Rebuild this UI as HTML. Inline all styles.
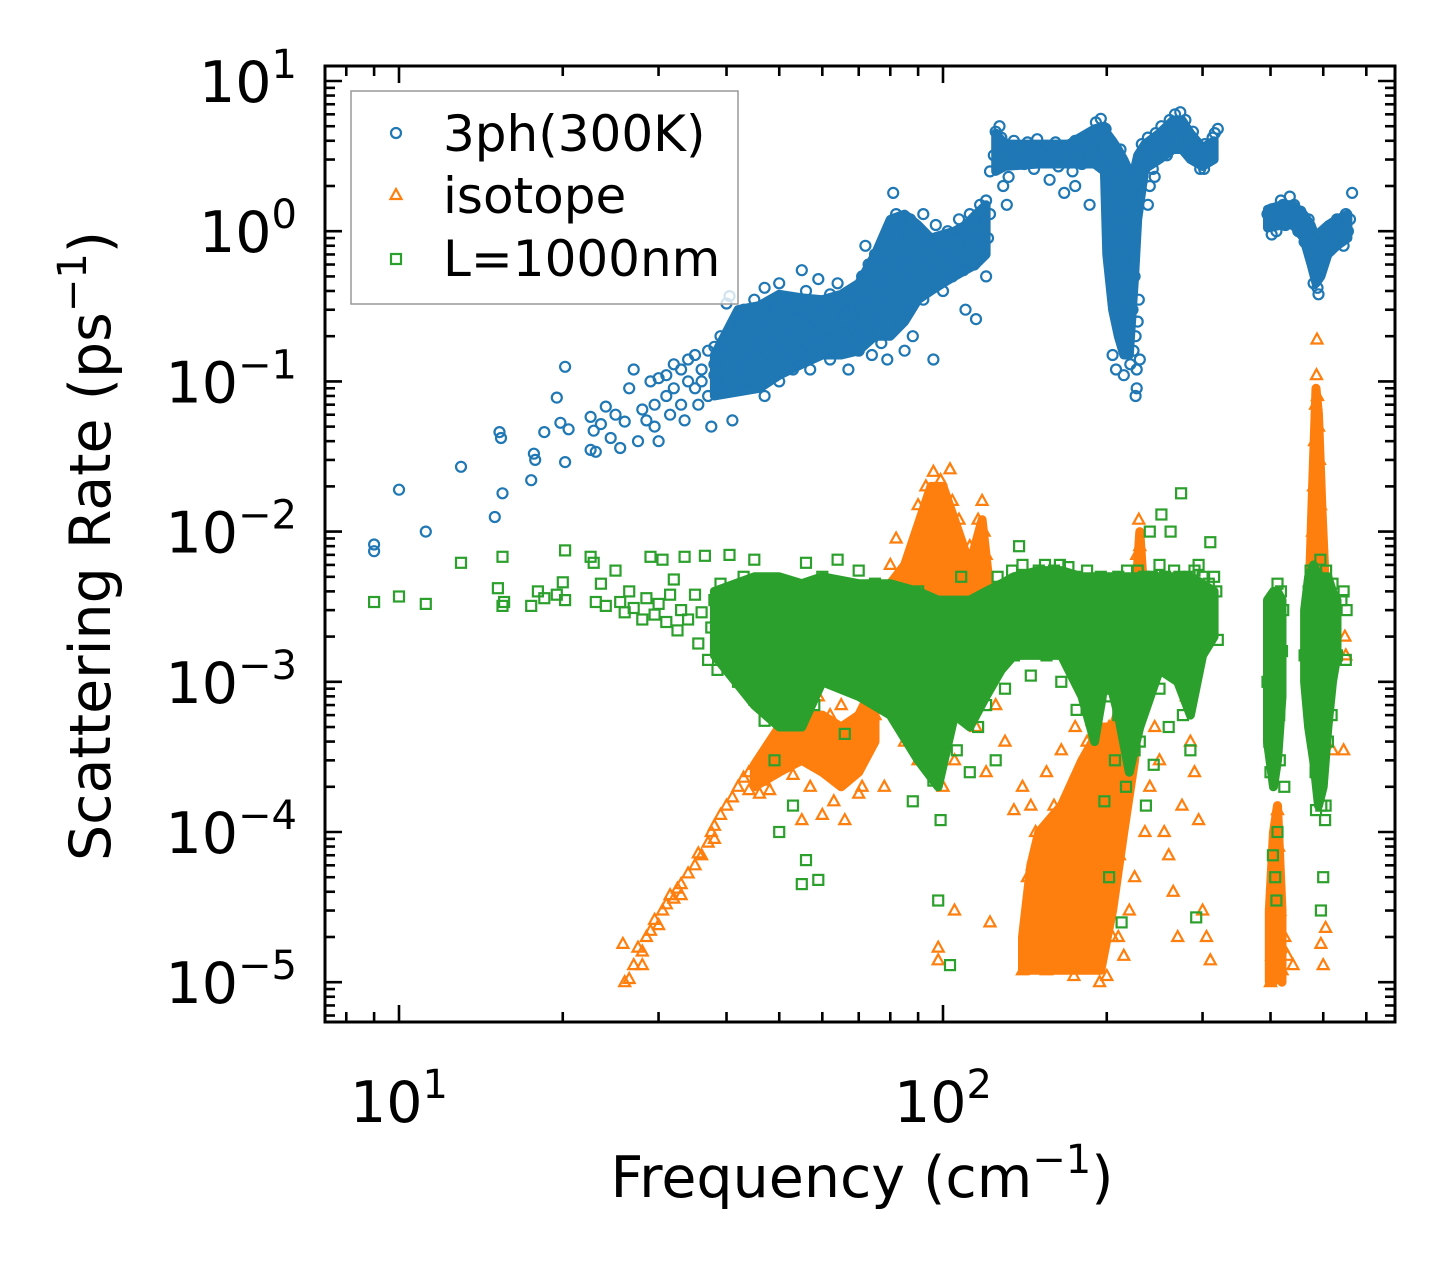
<!DOCTYPE html>
<html><head><meta charset="utf-8"><style>
html,body{margin:0;padding:0;background:#fff;}
svg{display:block;font-family:"DejaVu Sans","Liberation Sans",sans-serif;}
</style></head><body>
<svg id="chart" width="1455" height="1272" viewBox="0 0 1455 1272" xmlns="http://www.w3.org/2000/svg">
<rect width="1455" height="1272" fill="#fff"/>
<g id="marks"></g>
<g id="axes"></g>
<g>
<rect x="351" y="91" width="387" height="213" fill="#fff" fill-opacity="0.8" stroke="#999" stroke-width="1.5"/>
<circle cx="396" cy="133" r="5" fill="none" stroke="#1f77b4" stroke-width="2.2"/>
<polygon points="396,189 390.5,199 401.5,199" fill="none" stroke="#ff7f0e" stroke-width="2.2"/>
<rect x="391" y="254" width="10" height="10" fill="none" stroke="#2ca02c" stroke-width="2.2"/>
<text x="443" y="151" font-size="50">3ph(300K)</text>
<text x="443" y="213" font-size="50">isotope</text>
<text x="443" y="276" font-size="50">L=1000nm</text>
</g>
<text x="862" y="1197" font-size="57" text-anchor="middle">Frequency (cm<tspan font-size="40" dy="-24">−1</tspan><tspan dy="24">)</tspan></text>
<text transform="translate(110,546) rotate(-90)" font-size="57" text-anchor="middle">Scattering Rate (ps<tspan font-size="40" dy="-24">−1</tspan><tspan dy="24">)</tspan></text>
</svg>
<script>
const xTickExps = [1, 2];
const yTickExps = [1, 0, -1, -2, -3, -4, -5];
// dense-core envelopes: [frequency, low rate, high rate]
const threePhCoreA = [[38,0.08,0.15],[42,0.085,0.3],[46,0.09,0.32],[50,0.11,0.38],[55,0.13,0.36],[60,0.15,0.35],[65,0.15,0.38],[70,0.16,0.45],[75,0.2,0.7],[80,0.2,1.2],[85,0.25,1.3],[90,0.35,1.1],[95,0.4,0.9],[100,0.45,0.95],[105,0.5,1.0],[110,0.55,1.1],[115,0.6,1.3],[120,0.7,1.5]];
const threePhCoreB = [[125,2.5,4.5],[130,2.7,3.8],[150,2.8,3.8],[170,2.8,3.8],[190,2.8,4.8],[198,2.5,5],[200,0.7,4.5],[205,0.3,4],[210,0.2,3.5],[215,0.15,3],[220,0.15,2.5],[225,0.5,2.6],[228,1.2,3.2],[235,2.6,3.8],[250,3,4.5],[265,3.5,5.5],[275,3.5,5.5],[285,3,4.5],[300,2.7,3.6],[315,3,4]];
const threePhCoreC = [[395,1.05,1.4],[420,1.1,1.5],[440,1.1,1.5],[460,0.9,1.3],[475,0.6,1.1],[485,0.45,0.9],[495,0.5,1.0],[510,0.7,1.1],[530,0.8,1.2],[555,0.9,1.3]];
const isotopeCoreA = [[45,2e-4,2.8e-4],[50,2.5e-4,5e-4],[55,3e-4,6e-4],[60,2.5e-4,6e-4],[65,2e-4,5e-4],[70,2.5e-4,6e-4],[75,4e-4,1e-3]];
const isotopeCoreB = [[78,1e-3,4e-3],[85,1e-3,6e-3],[95,2e-3,2e-2],[100,2e-3,2e-2],[105,2e-3,1.2e-2],[112,2e-3,6e-3],[118,2e-3,1.2e-2],[122,2e-3,4e-3]];
const isotopeCoreC = [[140,1.2e-5,2e-5],[145,1.2e-5,6e-5],[150,1.2e-5,1e-4],[165,1.2e-5,1.5e-4],[180,1.2e-5,3e-4],[195,1.2e-5,5e-4],[205,3e-5,5e-4],[215,1e-4,8e-4],[225,3e-4,3e-3],[230,1e-3,1e-2],[235,1e-3,3e-3]];
const isotopeCoreD = [[398,1e-5,3e-5],[405,1e-5,1e-4],[412,1.2e-5,1.5e-4],[420,1e-5,3e-5]];
const isotopeCoreE = [[470,1e-3,3e-3],[478,2e-3,2e-2],[485,3e-3,9e-2],[490,3e-3,6e-2],[497,2e-3,1.5e-2],[505,1e-3,4e-3]];
const boundaryCoreA = [[38,1.5e-3,4e-3],[45,7e-4,5e-3],[50,5e-4,5e-3],[55,5e-4,4.5e-3],[60,1e-3,5e-3],[70,8e-4,4.5e-3],[80,6e-4,4.5e-3],[90,3e-4,4e-3],[98,2e-4,3.5e-3],[105,6e-4,3.5e-3],[112,5e-4,3.5e-3],[120,8e-4,4e-3],[128,1.2e-3,4.5e-3],[135,1.5e-3,5e-3],[150,1.5e-3,5.5e-3],[165,1.5e-3,5.5e-3],[180,8e-4,5e-3],[190,4e-4,5e-3],[200,1.2e-3,5e-3],[210,6e-4,5e-3],[220,2.5e-4,5e-3],[230,5e-4,5e-3],[250,1.2e-3,5e-3],[270,1e-3,5e-3],[285,6e-4,5e-3],[300,1.5e-3,4.5e-3],[315,2e-3,4e-3]];
const boundaryCoreB = [[395,4e-4,3.5e-3],[405,2e-4,4e-3],[412,3e-4,4e-3],[420,8e-4,3.5e-3]];
const boundaryCoreC = [[462,1e-3,3e-3],[470,5e-4,5e-3],[480,3e-4,6e-3],[490,1.5e-4,5e-3],[500,2e-4,5e-3],[510,5e-4,5e-3],[520,1e-3,4e-3],[530,1.5e-3,3.5e-3]];
const threePhData = [
[9,8.2e-3],[9,7.4e-3],[10,1.9e-2],[11.2,1e-2],[13,2.7e-2],[15,1.25e-2],[15.3,4.6e-2],[15.4,4.2e-2],[15.5,1.8e-2],[17.5,2.2e-2],[17.7,3.3e-2],[17.8,3.0e-2],[18.5,4.6e-2],[19.5,7.8e-2],[19.8,5.3e-2],[20.2,0.125],[20.2,2.9e-2],[20.5,4.8e-2],[22.5,5.8e-2],[22.5,3.5e-2],[22.8,4.7e-2],[23,3.4e-2],[23.5,5.2e-2],[24,6.8e-2],[24.5,4.2e-2],[25,0.06],[25.5,3.6e-2],[26,5.4e-2],[26.5,0.09],[27,0.12],[27.5,0.04],[28,0.065],[28.5,0.055],[29,0.1],[29.5,0.07],[29.5,0.05],[30,0.105],[30,0.04],[31,0.11],[31,0.08],[31.5,0.06],[32,0.13],[32,0.09],[33,0.12],[33,0.07],[33.5,0.055],[34,0.1],[34,0.14],[35,0.09],[35,0.15],[35.5,0.07],[36,0.12],[36,0.1],[37,0.08],[37,0.16],[37.5,0.05],[38,0.11],[38,0.17],[38.5,0.09],
[38,0.13],[39,0.2],[40,0.33],[40.5,0.37],[40,0.1],[41,0.16],[41,0.055],[42,0.25],[42,0.12],[43,0.3],[43,0.09],[44,0.2],[44,0.14],[45,0.35],[45,0.11],[46,0.26],[46,0.17],[47,0.42],[47,0.08],[48,0.22],[48,0.13],[49,0.3],[49,0.18],[50,0.45],[50,0.1],[51,0.25],[51,0.15],[52,0.35],[52,0.2],[53,0.12],[54,0.3],[54,0.22],[55,0.55],[55,0.16],[56,0.28],[56,0.4],[57,0.2],[57,0.12],[58,0.33],[58,0.25],[59,0.48],[60,0.18],[60,0.3],[61,0.22],[62,0.38],[62,0.14],[63,0.27],[64,0.2],[64,0.45],[65,0.32],[66,0.17],[66,0.25],[67,0.12],[68,0.3],[68,0.22],[69,0.38],[70,0.2],[70,0.16],[71,0.5],[71,0.28],[72,0.8],[72,0.35],[73,0.6],[73,0.22],[74,0.42],[74,0.15],[75,0.7],[75,0.3],[76,0.25],[77,0.45],[77,0.18],[78,0.33],[78,0.6],[79,0.14],[80,0.5],[80,1.0],[81,1.8],[81,0.35],[82,1.3],[82,0.6],[83,0.9],[83,0.25],[84,0.45],[84,1.1],[85,0.7],[85,0.16],[86,0.3],[86,0.55],[87,1.2],[87,0.85],[88,0.4],[88,0.2],[89,0.65],[90,1.0],[90,0.5],[91,0.75],[92,0.35],[92,1.3],[93,0.6],[94,0.9],[95,0.45],[96,0.75],[97,1.1],[98,0.55],[99,0.85],[100,0.65],[100,0.4],[102,1.0],[103,0.7],[104,0.5],[105,0.9],[106,0.6],[107,1.2],[108,0.75],[109,0.55],[110,0.95],[111,0.7],[112,1.3],[113,0.85],[114,0.6],[115,1.1],[116,0.9],[117,1.5],[118,0.75],[119,1.2],[120,1.6],[120,0.5],[121,0.9],[122,1.3],[115,0.26],[110,0.3],[96,0.14],
[122,2.5],[124,3.2],[125,4.6],[126,3.5],[127,5.0],[128,4.2],[129,2.0],[130,3.8],[131,1.5],[132,2.3],[133,3.3],[135,4.0],[137,3.0],[139,3.6],[141,2.8],[143,3.9],[145,3.2],[147,2.6],[149,4.1],[151,3.4],[153,2.9],[155,3.7],[157,2.2],[159,3.1],[161,3.9],[163,2.7],[165,3.5],[167,1.8],[169,3.0],[171,3.6],[173,2.5],[175,4.0],[177,3.2],[180,2.8],[183,3.8],[186,3.3],[189,4.5],[191,5.3],[193,4.0],[195,5.6],[197,3.5],[199,4.8],[186,1.5],[175,2.0],
[200,3.0],[201,2.0],[202,1.2],[203,0.8],[204,0.5],[205,2.5],[206,1.5],[207,0.35],[208,1.0],[209,0.65],[210,2.2],[211,0.25],[212,1.4],[213,0.45],[214,0.9],[215,0.3],[216,0.18],[217,0.6],[218,1.1],[219,0.4],[220,0.22],[221,0.13],[222,0.75],[223,0.3],[224,0.16],[225,0.5],[226,0.2],[227,0.12],[226,0.08],[227,0.09],[228,0.25],[229,0.35],[230,0.14],[215,0.11],[208,0.12],[205,0.15],[212,3.5],[218,2.5],[224,1.8],[228,2.8],[214,0.6],
[232,3.8],[235,3.0],[238,4.2],[240,3.4],[243,2.6],[246,4.5],[249,3.7],[252,5.0],[255,4.1],[258,3.2],[261,5.5],[264,4.4],[267,6.0],[270,5.3],[273,6.2],[276,4.7],[279,5.5],[282,4.0],[285,3.5],[288,4.6],[291,3.8],[294,3.0],[297,2.6],[300,3.3],[303,3.8],[306,3.2],[310,3.6],[313,4.2],[316,4.5],[320,4.8],[302,2.6],[240,2.0],[238,1.5],[245,2.3],
[395,1.3],[398,1.1],[402,1.4],[406,1.2],[410,1.0],[414,1.3],[418,1.6],[422,1.5],[426,1.1],[430,1.4],[434,1.7],[438,1.3],[442,1.5],[446,1.2],[450,1.0],[454,1.35],[458,1.1],[462,0.85],[466,0.95],[470,1.2],[474,0.7],[478,0.9],[482,0.6],[486,0.5],[488,0.42],[490,0.38],[492,0.55],[495,0.8],[500,0.65],[505,0.9],[510,1.0],[515,0.75],[520,1.1],[525,0.85],[530,1.2],[540,0.95],[550,1.3],[555,1.0],[565,1.8],[560,1.2],[545,0.8],[480,0.45],[402,0.95]
];
const isotopeData = [
[26,1.0e-5],[26.5,1.05e-5],[27,1.3e-5],[27.5,1.7e-5],[28,1.6e-5],[28.5,2.0e-5],[29,2.2e-5],[29.5,2.6e-5],[30,2.4e-5],[30.5,3.0e-5],[31,3.3e-5],[31.5,3.8e-5],[32,3.6e-5],[32.5,4.2e-5],[33,4.5e-5],[34,5.3e-5],[35,6.0e-5],[35.5,7.2e-5],[36,7.0e-5],[37,8.5e-5],[37.5,1.0e-4],[38,1.1e-4],[39,1.3e-4],[40,1.5e-4],[41,1.7e-4],[42,2.0e-4],[43,2.3e-4],[44,2.5e-4],[45,2.8e-4],[46,2.6e-4],[47,2.2e-4],[48,1.9e-4],[46,1.8e-4],[44,1.9e-4],[38,9e-5],[33,3.8e-5],[28,1.3e-5],[25.8,1.8e-5],
[49,3.5e-4],[50,4.5e-4],[51,3e-4],[52,5.5e-4],[53,2.4e-4],[54,4e-4],[55,6.5e-4],[56,3.2e-4],[57,2.0e-4],[58,5e-4],[59,8e-4],[60,4e-4],[61,2.6e-4],[62,6e-4],[63,1.6e-4],[64,3.5e-4],[65,7e-4],[66,2.4e-4],[67,4.5e-4],[68,1.1e-3],[69,3e-4],[70,5.5e-4],[71,2e-4],[72,8e-4],[73,4e-4],[74,1.3e-3],[75,6e-4],[76,2.8e-3],[77,3e-3],[78,1.8e-3],[79,4e-3],[80,6e-3],[81,3e-3],[82,9e-3],[83,5e-3],[84,2e-3],[85,1.2e-3],[86,4e-3],[87,7e-3],[88,3e-3],[89,1.5e-3],[90,1.5e-2],[91,8e-3],[92,4e-3],[93,2e-2],[94,1.2e-2],[95,6e-3],[96,2.5e-2],[97,1.7e-2],[98,9e-3],[99,2.2e-2],[100,1.4e-2],[101,7e-3],[102,1.1e-2],[103,2.6e-2],[104,1.6e-2],[105,5e-3],[106,9e-3],[107,1.2e-2],[108,6e-3],[110,4e-3],[112,8e-3],[114,6e-3],[116,1.2e-2],[118,1.6e-2],[119,1.0e-2],[120,7e-3],[121,4e-3],[122,2e-3],[115,3e-3],[58,1.5e-3],[62,1.1e-3],[55,1.2e-4],[66,1.2e-4],[60,1.3e-4],[70,1.8e-4],[78,2e-4],[85,4e-4],[90,3e-4],[95,4.5e-4],[100,2e-4],[105,3e-4],[110,6e-4],[115,5e-4],[120,2.5e-4],[125,7e-4],[130,4e-4],[98,1.7e-5],[98,1.4e-5],[105,3e-5],[122,2.5e-5],[135,1.4e-4],[140,2e-4],
[140,1.2e-5],[142,2e-5],[144,3.5e-5],[146,6e-5],[148,1e-4],[150,1.6e-5],[152,4e-5],[154,2.5e-5],[156,8e-5],[158,1.3e-5],[160,5e-5],[162,3e-5],[164,1.2e-4],[166,2e-5],[168,7e-5],[170,1.5e-4],[172,4e-5],[174,1.1e-5],[176,2.5e-4],[178,9e-5],[180,3e-5],[182,6e-5],[184,4e-4],[186,1.8e-5],[188,1.2e-4],[190,5e-5],[192,2.2e-5],[194,1.0e-5],[196,8e-5],[198,3.5e-5],[200,2e-4],[202,5e-4],[205,3e-4],[208,1e-4],[211,7e-5],[214,2e-4],[217,1e-3],[220,5e-4],[223,2e-3],[225,4e-3],[227,7e-3],[229,1.2e-2],[230,8e-3],[232,3e-3],[228,1.5e-3],[145,1.5e-4],[155,2.5e-4],[165,3.5e-4],[175,5e-4],[185,7e-4],[150,7e-5],[160,1.5e-4],[170,1.0e-4],[180,1.8e-4],[190,2.5e-4],[195,1.5e-4],[143,5e-5],[155,1.2e-5],[167,1.5e-5],[182,1.3e-5],[192,1.5e-5],[200,1.1e-5],[205,2e-5],[210,2e-5],[215,1.5e-5],[220,3e-5],[225,5e-5],[235,1e-4],[240,2e-4],[245,5e-4],[250,3e-4],[255,1e-4],[260,7e-5],[265,4e-5],[270,2e-5],[275,1.5e-4],[280,8e-4],[285,4e-4],[290,2.5e-4],[295,1.2e-4],[300,3e-5],[305,2e-5],[310,1.4e-5],[283,1.3e-3],[278,2e-3],[198,4e-4],[188,5.5e-4],
[400,1e-5],[402,1.5e-5],[404,2.5e-5],[406,4e-5],[408,6e-5],[410,1e-4],[412,1.4e-4],[414,8e-5],[416,3e-5],[418,1.8e-5],[420,1.2e-5],[425,2e-5],[430,1.5e-5],[411,5e-5],[405,1.2e-5],[440,1.3e-5],
[470,2e-3],[475,5e-3],[478,1e-2],[480,2e-2],[482,4e-2],[484,7e-2],[486,0.11],[487,0.19],[488,8e-2],[490,5e-2],[492,3e-2],[494,1.5e-2],[496,8e-3],[498,4e-3],[500,2.5e-3],[485,3e-3],[483,1.5e-3],[489,2e-2],[493,6e-3],[505,4e-3],[510,3e-3],[515,2e-3],[520,3.5e-4],[500,1.3e-5],[505,2.3e-5],[495,1.8e-5],[545,3.5e-4],[548,2e-3],[550,1.5e-3]
];
const boundaryData = [
[9,3.4e-3],[10,3.7e-3],[11.2,3.3e-3],[13,6.2e-3],[15.2,4.2e-3],[15.5,6.8e-3],[15.5,3.2e-3],[15.6,3.4e-3],[17.5,3.2e-3],[18,4e-3],[18.5,3.6e-3],[19.5,3.8e-3],[20.2,7.5e-3],[20,4.6e-3],[20.2,3.5e-3],[22.5,6.8e-3],[22.8,6.2e-3],[23,3.4e-3],[23.5,4.5e-3],[24,3.2e-3],[25,5.5e-3],[25.5,3.4e-3],[26,2.9e-3],[26.5,4.0e-3],[27,3.1e-3],[28,2.6e-3],[28.5,3.6e-3],[29,6.8e-3],[29.5,2.8e-3],[30,3.3e-3],[30.5,6.5e-3],[31,2.5e-3],[31.5,3.8e-3],[32,4.8e-3],[32.5,2.2e-3],[33,3.0e-3],[33.5,6.8e-3],[34,2.6e-3],[35,3.8e-3],[35.5,1.8e-3],[36,2.9e-3],[36.5,6.9e-3],[37,1.4e-3],[37.5,2.3e-3],[38,3.5e-3],[38.5,1.2e-3],[39,2.8e-3],[39,4.5e-3],[40,1.8e-3],[40.5,7e-3],[41,2.4e-3],[41.5,3.5e-3],[42,1.0e-3],[42,2e-3],[43,5e-3],[43,3e-3],[44,1.5e-3],[44,2.6e-3],[45,6.5e-3],[45,7.6e-4],[46,1.3e-3],[46,3.5e-3],[47,2.2e-3],[47,5.5e-4],[48,1.8e-3],[48,4.2e-3],[49,1.1e-3],[49,3.0e-4],[50,2.5e-3],[50,1.0e-4],[51,1.5e-3],[51,4.5e-3],[52,6e-4],[52,2.8e-3],[53,1.9e-3],[53,1.5e-4],[54,3.8e-3],[54,9e-4],[55,2.2e-3],[55,4.5e-5],[56,6.5e-5],[56,6.2e-3],[57,1.4e-3],[57,3.2e-3],[58,2.5e-3],[58,7e-4],[59,4.8e-5],[59,3.5e-3],[60,1.7e-3],[60,5e-3],[62,2.2e-3],[62,1.1e-3],[64,3.5e-3],[64,6.5e-3],[65,1.8e-3],[66,4.5e-4],[66,2.6e-3],[68,3.2e-3],[68,1.3e-3],[70,2.4e-3],[70,5.5e-3],[72,1.6e-3],[72,3.8e-3],[74,2.8e-3],[74,8e-4],[75,4.5e-3],[76,1.9e-3],[78,3.2e-3],[78,1.2e-3],[80,2.5e-3],[80,4.2e-3],[82,1.5e-3],[82,6e-4],[84,3.5e-3],[85,2.1e-3],[86,1e-3],[88,2.8e-3],[88,1.6e-4],[90,1.8e-3],[90,4e-3],[92,1.1e-3],[93,2.5e-3],[94,5e-4],[95,1.5e-3],[95,3.2e-3],[96,2.2e-4],[97,1e-3],[97,2e-3],[98,6e-4],[98,3.5e-5],[99,1.2e-4],[100,1.5e-3],[100,2.8e-3],[101,4e-4],[102,9e-4],[102,2e-3],[103,1.3e-5],[104,6e-4],[105,2.5e-3],[106,1.2e-3],[106,3.5e-4],[108,2e-3],[108,5e-3],[110,1.5e-3],[110,8e-4],[112,2.5e-4],[112,2.2e-3],[114,3e-3],[114,1.2e-3],[116,5e-4],[116,2e-3],[118,1e-3],[118,3e-3],[120,1.8e-3],[120,7e-4],[122,3.5e-3],[122,2.5e-3],[124,1.2e-3],[125,3e-4],[126,5e-3],[128,4e-3],[130,2.5e-3],[130,9e-4],[132,3.5e-3],[134,5.5e-3],[135,1.5e-3],[136,4.8e-3],[138,3e-3],[138,8e-3],[140,6e-3],[140,2.2e-3],[142,4.2e-3],[144,5e-3],[145,1.1e-3],[146,3.5e-3],[148,4.5e-3],[150,2.8e-3],[150,5.5e-3],[152,4e-3],[154,6e-3],[155,1.5e-3],[156,3.2e-3],[158,4.8e-3],[160,5.5e-3],[160,2.2e-3],[162,3.8e-3],[164,6e-3],[165,1e-3],[166,4.5e-3],[168,2.5e-3],[170,5.8e-3],[170,3.2e-3],[172,4e-3],[174,1.8e-3],[175,5e-3],[176,6.5e-4],[178,3e-3],[180,4.5e-3],[180,1.5e-3],[182,2.5e-3],[184,5.5e-3],[185,8e-4],[186,3.5e-3],[188,2e-3],[190,4.5e-3],[190,5e-4],[192,1.2e-3],[193,3e-3],[195,5e-3],[196,2.2e-3],[198,9e-4],[198,1.6e-4],[200,3.5e-3],[200,1.5e-3],[202,5e-5],[203,8e-4],[205,4e-3],[205,1.2e-3],[207,3e-4],[208,2.5e-3],[210,6e-4],[210,5e-3],[212,1.8e-3],[213,2.5e-5],[214,4e-3],[215,1e-3],[216,3e-3],[217,2e-4],[218,5.5e-3],[220,2e-3],[220,7e-4],[222,4e-3],[224,1.2e-3],[225,3.5e-4],[226,3e-3],[228,5.5e-3],[228,1.5e-3],[230,4e-4],[232,2.5e-3],[234,5e-3],[235,1e-3],[236,1.5e-4],[238,3.5e-3],[240,2e-3],[240,1e-2],[242,5e-3],[244,2.8e-4],[245,1.5e-3],[246,4e-3],[248,2.5e-3],[250,6e-3],[250,9e-4],[252,1.3e-2],[254,3.5e-3],[256,5e-3],[258,1.8e-3],[260,4.5e-3],[260,5e-4],[262,1e-2],[264,3e-3],[266,5.5e-3],[268,2e-3],[270,4e-3],[270,1.2e-3],[272,5e-3],[274,1.8e-2],[275,3e-3],[276,6e-4],[278,1.4e-3],[280,4.5e-3],[280,2.5e-3],[282,9e-4],[284,5e-3],[285,3.5e-4],[286,2e-3],[288,1e-3],[290,5.5e-3],[290,3e-3],[292,2.7e-5],[295,6e-3],[298,4e-3],[300,5e-3],[302,3.5e-3],[305,2.5e-3],[308,4.5e-3],[310,8.5e-3],[315,5e-3],[320,1.9e-3],[318,4e-3],
[395,1e-3],[398,1.5e-3],[400,7e-4],[402,2.5e-3],[404,1.2e-3],[406,5e-4],[408,3.5e-3],[410,2e-3],[412,4.5e-3],[414,9e-4],[416,3e-4],[418,4e-3],[420,1.6e-3],[422,3e-3],[424,2e-4],[412,1e-4],[408,5e-5],[410,3.5e-5],[404,7e-5],[415,6e-4],[400,2.5e-4],[398,4e-4],
[462,1.5e-3],[466,2.5e-3],[470,4e-3],[472,1e-3],[474,5.5e-3],[476,6e-4],[478,3e-3],[480,4e-4],[482,1.8e-3],[484,2.5e-4],[486,5e-3],[488,1.2e-3],[490,3e-4],[492,2e-3],[494,6.5e-3],[496,1.5e-4],[498,4e-3],[500,8e-4],[502,2.5e-3],[504,1.2e-4],[506,5.5e-3],[508,1.5e-3],[510,4e-4],[512,3.5e-3],[515,2e-3],[518,6e-4],[520,4.5e-3],[525,2.5e-3],[530,1.5e-3],[540,3.5e-3],[545,4e-3],[550,1.4e-3],[552,3e-3],[500,5e-5],[495,3e-5],[505,1.5e-4],[485,1.4e-4]
];

const NS = 'http://www.w3.org/2000/svg';
const L = 325, R = 1395, T = 66, B = 1022;
const X10 = 399, XDEC = 544, Y10 = 81, YDEC = 150.2;
function xScale(f){ return X10 + (Math.log10(f) - 1) * XDEC; }
function yScale(r){ return Y10 + (1 - Math.log10(r)) * YDEC; }
function mk(tag, attrs, parent){ const e = document.createElementNS(NS, tag); for (const k in attrs) e.setAttribute(k, attrs[k]); parent.appendChild(e); return e; }
function drawCore(env, color, parent){
  const top = env.map(d => xScale(d[0]).toFixed(1) + ',' + yScale(d[2]).toFixed(1));
  const bot = env.slice().reverse().map(d => xScale(d[0]).toFixed(1) + ',' + yScale(d[1]).toFixed(1));
  const p = mk('polygon', {points: top.concat(bot).join(' '), fill: color, stroke: color, 'stroke-width': 9, 'stroke-linejoin': 'round'}, parent);
  
  
}

const marks = document.getElementById('marks');
const gBlue = mk('g', {fill:'none', stroke:'#1f77b4', 'stroke-width':2.2}, marks);


[threePhCoreA, threePhCoreB, threePhCoreC].forEach(env => drawCore(env, '#1f77b4', gBlue));
threePhData.forEach(p => {
  const c = mk('circle', {cx:xScale(p[0]).toFixed(1), cy:yScale(p[1]).toFixed(1), r:5}, gBlue);
  
  
});
const gOrange = mk('g', {fill:'none', stroke:'#ff7f0e', 'stroke-width':2.2}, marks);


[isotopeCoreA, isotopeCoreB, isotopeCoreC, isotopeCoreD, isotopeCoreE].forEach(env => drawCore(env, '#ff7f0e', gOrange));
isotopeData.forEach(p => {
  const x = xScale(p[0]), y = yScale(p[1]);
  const t = mk('polygon', {points:`${x.toFixed(1)},${(y-6).toFixed(1)} ${(x-5.5).toFixed(1)},${(y+4).toFixed(1)} ${(x+5.5).toFixed(1)},${(y+4).toFixed(1)}`}, gOrange);
  
  
});
const gGreen = mk('g', {fill:'none', stroke:'#2ca02c', 'stroke-width':2.2}, marks);


[boundaryCoreA, boundaryCoreB, boundaryCoreC].forEach(env => drawCore(env, '#2ca02c', gGreen));
boundaryData.forEach(p => {
  const x = xScale(p[0]), y = yScale(p[1]);
  const s = mk('rect', {x:(x-5).toFixed(1), y:(y-5).toFixed(1), width:10, height:10}, gGreen);
  
  
});

const axes = document.getElementById('axes');
const frame = mk('rect', {x:L, y:T, width:R-L, height:B-T, fill:'none', stroke:'#000', 'stroke-width':3}, axes);


const ticks = mk('g', {stroke:'#000', 'stroke-width':2.6}, axes);


for (let e = 0; e <= 2; e++) {
  for (let m = 1; m <= 9; m++) {
    const x = xScale(m * Math.pow(10, e));
    if (x < L + 1 || x > R - 1) continue;
    const len = m === 1 ? 17 : 10;
    mk('line', {x1:x, x2:x, y1:B, y2:B-len}, ticks);
    mk('line', {x1:x, x2:x, y1:T, y2:T+len}, ticks);
  }
}
for (let e = -6; e <= 1; e++) {
  for (let m = 1; m <= 9; m++) {
    const y = yScale(m * Math.pow(10, e));
    if (y < T + 1 || y > B - 1) continue;
    const len = m === 1 ? 17 : 10;
    mk('line', {x1:L, x2:L+len, y1:y, y2:y}, ticks);
    mk('line', {x1:R, x2:R-len, y1:y, y2:y}, ticks);
  }
}
xTickExps.forEach(e => {
  const t = mk('text', {x:xScale(Math.pow(10, e)), y:1122, 'font-size':57, 'text-anchor':'middle'}, axes);
  
  
  t.innerHTML = `10<tspan font-size="40" dy="-24">${e}</tspan>`;
});
yTickExps.forEach(e => {
  const t = mk('text', {x:297, y:yScale(Math.pow(10, e)) + 21, 'font-size':57, 'text-anchor':'end'}, axes);
  
  
  const lab = e < 0 ? '−' + (-e) : '' + e;
  t.innerHTML = `10<tspan font-size="40" dy="-24">${lab}</tspan>`;
});
</script>
</body></html>
